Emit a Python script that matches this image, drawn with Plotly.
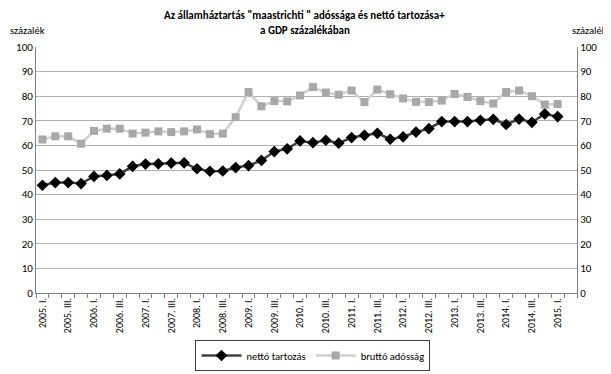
import plotly.graph_objects as go

years = list(range(2005, 2016))
roman = ["I.", "II.", "III.", "IV."]
quarters = [f"{y}. {r}" for y in years for r in roman][:42]  # 2005 Q1 .. 2015 Q2
tick_labels = [q if i % 2 == 0 else "" for i, q in enumerate(quarters)]

netto = [43.8, 44.9, 44.9, 44.5, 47.4, 47.8, 48.4, 51.5, 52.4, 52.5,
         52.8, 52.9, 50.5, 49.5, 49.6, 51.0, 51.8, 53.9, 57.5, 58.6,
         61.8, 61.1, 62.1, 60.9, 63.2, 64.1, 64.9, 62.5, 63.5, 65.4,
         66.8, 69.7, 69.7, 69.7, 70.2, 70.6, 68.5, 70.7, 69.4, 72.8, 71.7]
brutto = [62.4, 63.7, 63.7, 60.7, 65.9, 66.8, 66.8, 64.8, 65.2, 65.7,
          65.4, 65.7, 66.5, 64.6, 64.8, 71.5, 81.7, 75.9, 78.0, 77.9,
          80.3, 83.7, 81.5, 80.6, 82.3, 77.6, 82.7, 80.8, 79.1, 77.7,
          77.6, 78.2, 80.9, 79.7, 78.0, 77.0, 81.7, 82.3, 80.0, 76.6, 76.8]

FONT = "Carlito, Lato, 'Open Sans', sans-serif"

fig = go.Figure()
fig.add_trace(go.Scatter(
    x=quarters[:len(netto)], y=netto, name="nettó tartozás", mode="lines+markers",
    line=dict(color="#404040", width=2.5),
    marker=dict(symbol="diamond", size=9, color="#000000"),
))
fig.add_trace(go.Scatter(
    x=quarters[:len(brutto)], y=brutto, name="bruttó adósság", mode="lines+markers",
    line=dict(color="#cfcfcf", width=2.5),
    marker=dict(symbol="square", size=8, color="#a8a8a8"),
))
# invisible trace to carry the right-hand axis
fig.add_trace(go.Scatter(x=[quarters[0]], y=[0], yaxis="y2", showlegend=False,
                         mode="markers", marker=dict(opacity=0), hoverinfo="skip"))

# page body has an 8px default margin, so the figure is sized to fit inside it
fig.update_layout(
    template="none",
    width=603, height=366,
    margin=dict(l=28, r=34, t=39, b=81, autoexpand=False),
    paper_bgcolor="white", plot_bgcolor="white",
    font=dict(family=FONT, size=10, color="#000000"),
    showlegend=True,
    legend=dict(orientation="h", x=0.512, xanchor="center", y=-0.254, yanchor="middle",
                bordercolor="#404040", borderwidth=1, font=dict(size=10.5),
                itemwidth=40, tracegroupgap=0, bgcolor="white"),
    xaxis=dict(
        type="category", categoryorder="array", categoryarray=quarters,
        range=[-0.5, 41.5], tickmode="array", tickvals=quarters, ticktext=tick_labels,
        tickangle=-90, tickson="boundaries", ticks="outside", ticklen=4,
        tickcolor="#808080", showgrid=False, showline=True, linecolor="#808080",
        linewidth=1, tickfont=dict(size=10), zeroline=False, automargin=False,
    ),
    yaxis=dict(
        range=[0, 100], dtick=10, showgrid=True, gridcolor="#b0b0b0", gridwidth=1,
        showline=True, linecolor="#808080", linewidth=1, zeroline=False,
        ticks="", tickfont=dict(size=11), automargin=False,
    ),
    yaxis2=dict(
        range=[0, 100], dtick=10, overlaying="y", side="right", showgrid=False,
        showline=True, linecolor="#808080", linewidth=1, zeroline=False,
        ticks="", tickfont=dict(size=11), automargin=False,
    ),
    annotations=[
        dict(text="<b>Az államháztartás \"maastrichti \" adóssága és nettó tartozása+</b>",
             xref="paper", yref="paper", x=0.497, y=1.0, yshift=32, yanchor="middle",
             showarrow=False, font=dict(size=11), borderpad=0),
        dict(text="<b>a GDP százalékában</b>",
             xref="paper", yref="paper", x=0.497, y=1.0, yshift=17, yanchor="middle",
             showarrow=False, font=dict(size=11), borderpad=0),
        dict(text="százalék", xref="paper", yref="paper", x=0, xshift=-28, y=1.0,
             yshift=17, xanchor="left", yanchor="middle", showarrow=False,
             font=dict(size=10.5)),
        dict(text="százalék", xref="paper", yref="paper", x=1, xshift=-7, y=1.0,
             yshift=17, xanchor="left", yanchor="middle", showarrow=False,
             font=dict(size=10.5)),
    ],
)

fig.write_html("out.html")
